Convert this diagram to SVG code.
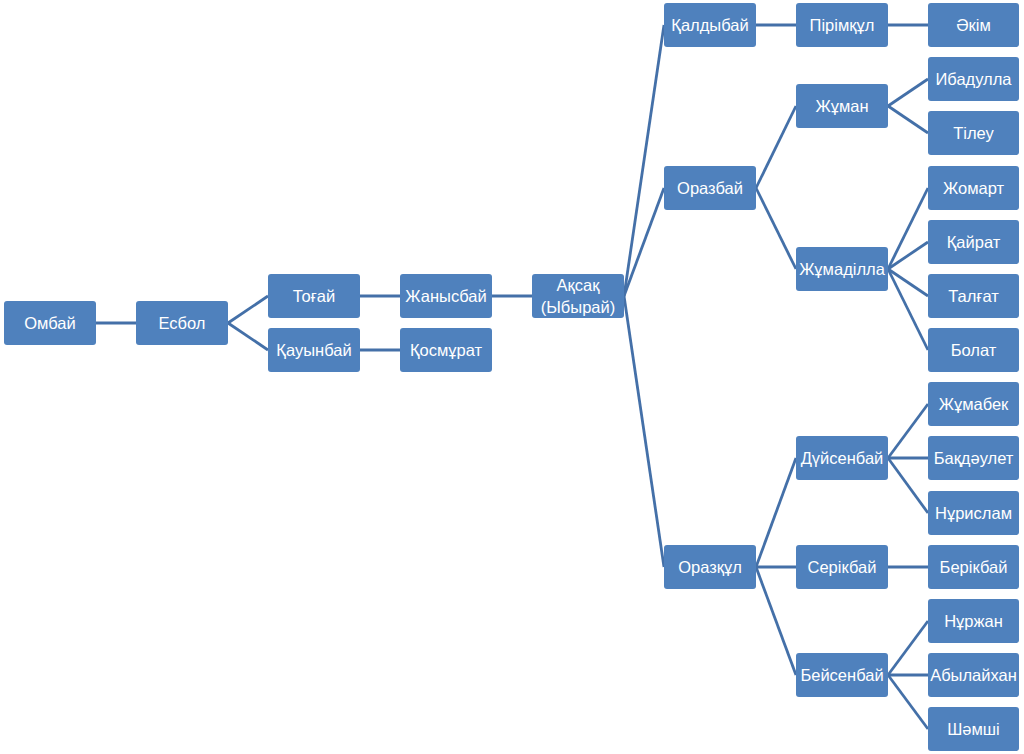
<svg xmlns="http://www.w3.org/2000/svg" width="1024" height="754" viewBox="0 0 1024 754">
<style>
.n rect{fill:#4F81BD;stroke:none}
.n text{fill:#FFFFFF;font-family:"Liberation Sans","Noto Sans",Arial,sans-serif;font-size:16.5px;text-anchor:middle;dominant-baseline:central}
#edges line{stroke:#4470A8;stroke-width:2.8;stroke-linecap:butt}
</style>
<rect width="1024" height="754" fill="#FFFFFF"/>
<g id="edges">
<line x1="96" y1="323" x2="136" y2="323"/>
<line x1="228" y1="323" x2="268" y2="296"/>
<line x1="228" y1="323" x2="268" y2="350"/>
<line x1="360" y1="296" x2="400" y2="296"/>
<line x1="360" y1="350" x2="400" y2="350"/>
<line x1="492" y1="296" x2="532" y2="296"/>
<line x1="624" y1="296" x2="664" y2="25"/>
<line x1="624" y1="296" x2="664" y2="188"/>
<line x1="624" y1="296" x2="664" y2="567"/>
<line x1="756" y1="25" x2="796" y2="25"/>
<line x1="888" y1="25" x2="928" y2="25"/>
<line x1="756" y1="188" x2="796" y2="106"/>
<line x1="756" y1="188" x2="796" y2="269"/>
<line x1="888" y1="106" x2="928" y2="79"/>
<line x1="888" y1="106" x2="928" y2="133"/>
<line x1="888" y1="269" x2="928" y2="188"/>
<line x1="888" y1="269" x2="928" y2="242"/>
<line x1="888" y1="269" x2="928" y2="296"/>
<line x1="888" y1="269" x2="928" y2="350"/>
<line x1="756" y1="567" x2="796" y2="458"/>
<line x1="756" y1="567" x2="796" y2="567"/>
<line x1="756" y1="567" x2="796" y2="675"/>
<line x1="888" y1="458" x2="928" y2="404"/>
<line x1="888" y1="458" x2="928" y2="458"/>
<line x1="888" y1="458" x2="928" y2="513"/>
<line x1="888" y1="567" x2="928" y2="567"/>
<line x1="888" y1="675" x2="928" y2="621"/>
<line x1="888" y1="675" x2="928" y2="675"/>
<line x1="888" y1="675" x2="928" y2="729"/>
</g>
<g id="n-ombai" class="n"><rect x="4" y="301" width="92" height="44" rx="3"/><text x="50" y="323">Омбай</text></g>
<g id="n-esbol" class="n"><rect x="136" y="301" width="92" height="44" rx="3"/><text x="182" y="323">Есбол</text></g>
<g id="n-togai" class="n"><rect x="268" y="274" width="92" height="44" rx="3"/><text x="314" y="296">Тоғай</text></g>
<g id="n-kauynbai" class="n"><rect x="268" y="328" width="92" height="44" rx="3"/><text x="314" y="350">Қауынбай</text></g>
<g id="n-zhanysbai" class="n"><rect x="400" y="274" width="92" height="44" rx="3"/><text x="446" y="296">Жанысбай</text></g>
<g id="n-kosmurat" class="n"><rect x="400" y="328" width="92" height="44" rx="3"/><text x="446" y="350">Қосмұрат</text></g>
<g id="n-aksak" class="n"><rect x="532" y="274" width="92" height="44" rx="3"/><text x="578" y="285">Ақсақ</text><text x="578" y="307">(Ыбырай)</text></g>
<g id="n-kaldybai" class="n"><rect x="664" y="3" width="92" height="44" rx="3"/><text x="710" y="25">Қалдыбай</text></g>
<g id="n-orazbai" class="n"><rect x="664" y="166" width="92" height="44" rx="3"/><text x="710" y="188">Оразбай</text></g>
<g id="n-orazkul" class="n"><rect x="664" y="545" width="92" height="44" rx="3"/><text x="710" y="567">Оразқұл</text></g>
<g id="n-pirimkul" class="n"><rect x="796" y="3" width="92" height="44" rx="3"/><text x="842" y="25">Пірімқұл</text></g>
<g id="n-zhuman" class="n"><rect x="796" y="84" width="92" height="44" rx="3"/><text x="842" y="106">Жұман</text></g>
<g id="n-zhumadilla" class="n"><rect x="796" y="247" width="92" height="44" rx="3"/><text x="842" y="269">Жұмаділла</text></g>
<g id="n-duisenbai" class="n"><rect x="796" y="436" width="92" height="44" rx="3"/><text x="842" y="458">Дүйсенбай</text></g>
<g id="n-serikbai" class="n"><rect x="796" y="545" width="92" height="44" rx="3"/><text x="842" y="567">Серікбай</text></g>
<g id="n-beisenbai" class="n"><rect x="796" y="653" width="92" height="44" rx="3"/><text x="842" y="675">Бейсенбай</text></g>
<g id="n-akim" class="n"><rect x="928" y="3" width="91" height="44" rx="3"/><text x="973.5" y="25">Әкім</text></g>
<g id="n-ibadulla" class="n"><rect x="928" y="57" width="91" height="44" rx="3"/><text x="973.5" y="79">Ибадулла</text></g>
<g id="n-tileu" class="n"><rect x="928" y="111" width="91" height="44" rx="3"/><text x="973.5" y="133">Тілеу</text></g>
<g id="n-zhomart" class="n"><rect x="928" y="166" width="91" height="44" rx="3"/><text x="973.5" y="188">Жомарт</text></g>
<g id="n-kairat" class="n"><rect x="928" y="220" width="91" height="44" rx="3"/><text x="973.5" y="242">Қайрат</text></g>
<g id="n-talgat" class="n"><rect x="928" y="274" width="91" height="44" rx="3"/><text x="973.5" y="296">Талғат</text></g>
<g id="n-bolat" class="n"><rect x="928" y="328" width="91" height="44" rx="3"/><text x="973.5" y="350">Болат</text></g>
<g id="n-zhumabek" class="n"><rect x="928" y="382" width="91" height="44" rx="3"/><text x="973.5" y="404">Жұмабек</text></g>
<g id="n-bakdaulet" class="n"><rect x="928" y="436" width="91" height="44" rx="3"/><text x="973.5" y="458">Бақдәулет</text></g>
<g id="n-nurislam" class="n"><rect x="928" y="491" width="91" height="44" rx="3"/><text x="973.5" y="513">Нұрислам</text></g>
<g id="n-berikbai" class="n"><rect x="928" y="545" width="91" height="44" rx="3"/><text x="973.5" y="567">Берікбай</text></g>
<g id="n-nurzhan" class="n"><rect x="928" y="599" width="91" height="44" rx="3"/><text x="973.5" y="621">Нұржан</text></g>
<g id="n-abylaikhan" class="n"><rect x="928" y="653" width="91" height="44" rx="3"/><text x="973.5" y="675">Абылайхан</text></g>
<g id="n-shamshi" class="n"><rect x="928" y="707" width="91" height="44" rx="3"/><text x="973.5" y="729">Шәмші</text></g>
</svg>
